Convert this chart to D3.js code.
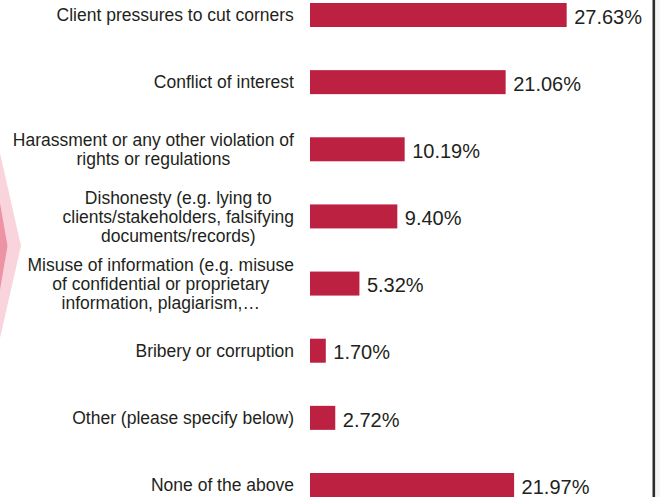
<!DOCTYPE html>
<html>
<head>
<meta charset="utf-8">
<script src="https://cdn.jsdelivr.net/npm/d3@7"></script>
<style>
  html, body { margin: 0; padding: 0; background: #fff; }
  svg { display: block; }
</style>
</head>
<body>
<svg id="chart" width="660" height="497"></svg>
<script>
// Issues reported, share of respondents (%)
const categories = [
  ["Client pressures to cut corners"],
  ["Conflict of interest"],
  ["Harassment or any other violation of", "rights or regulations"],
  ["Dishonesty (e.g. lying to", "clients/stakeholders, falsifying", "documents/records)"],
  ["Misuse of information (e.g. misuse", "of confidential or proprietary", "information, plagiarism,\u2026"],
  ["Bribery or corruption"],
  ["Other (please specify below)"],
  ["None of the above"]
];
const values = [27.63, 21.06, 10.19, 9.40, 5.32, 1.70, 2.72, 21.97];
const valueLabels = ["27.63%", "21.06%", "10.19%", "9.40%", "5.32%", "1.70%", "2.72%", "21.97%"];

const svg = d3.select("#chart");
const W = 660, H = 497;
const barColor = "#bc2141";
const textColor = "#231f20";

// Decorative chevron on the left edge
svg.append("path")
  .attr("d", "M0,153 L21,246 L0,338 Z")
  .attr("fill", "#f9d4dc");
svg.append("path")
  .attr("d", "M0,203 L7.5,246 L0,290 Z")
  .attr("fill", "#ec94a5");

// Right-hand panel divider
svg.append("rect").attr("x", 655).attr("y", 0).attr("width", 5).attr("height", H).attr("fill", "#f6f6f6");
svg.append("line")
  .attr("x1", 653.8).attr("x2", 653.8).attr("y1", 0).attr("y2", H)
  .attr("stroke", "#2d2d2d").attr("stroke-width", 2.6);

const x = d3.scaleLinear().domain([0, 30]).range([310, 310 + 30 * 9.29]);
const idx = d3.range(values.length);
const y = d3.scalePoint().domain(idx).range([15, 485]);
const barH = 24;

const g = svg.append("g");

g.selectAll("rect.bar")
  .data(idx)
  .join("rect")
  .attr("class", "bar")
  .attr("x", x(0))
  .attr("y", i => y(i) - barH / 2)
  .attr("width", i => x(values[i]) - x(0))
  .attr("height", barH)
  .attr("fill", barColor);

g.selectAll("text.val")
  .data(idx)
  .join("text")
  .attr("class", "val")
  .attr("x", i => x(values[i]) + 7.5)
  .attr("y", i => y(i) + 1.5)
  .attr("dy", "0.36em")
  .attr("font-family", "'Liberation Sans', Arial, sans-serif")
  .attr("font-size", 20)
  .attr("fill", textColor)
  .text(i => valueLabels[i]);

const lineH = 19;
const labels = g.selectAll("text.cat")
  .data(idx)
  .join("text")
  .attr("class", "cat")
  .attr("text-anchor", "middle")
  .attr("font-family", "'Liberation Sans', Arial, sans-serif")
  .attr("font-size", 17.5)
  .attr("fill", textColor);

labels.each(function(i) {
  const lines = categories[i];
  const t = d3.select(this);
  const n = lines.length;
  lines.forEach((s, k) => {
    t.append("tspan")
      .attr("x", 0)
      .attr("y", y(i) + (k - (n - 1) / 2) * lineH)
      .attr("dy", "0.36em")
      .text(s);
  });
  // right-align the block at x = 294 while keeping lines centred
  const bw = this.getBBox().width;
  t.selectAll("tspan").attr("x", 294 - bw / 2);
});
</script>
</body>
</html>
